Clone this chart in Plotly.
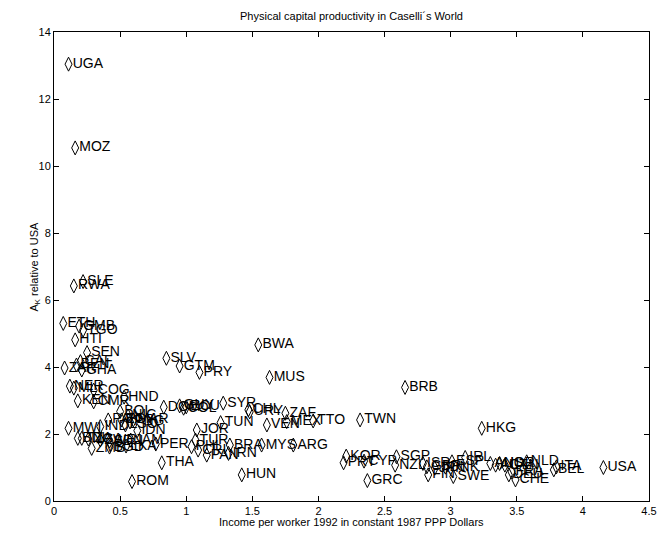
import plotly.graph_objects as go

countries = ["UGA","MOZ","SLE","RWA","ETH","GMB","TGO","HTI","SEN","CAF","BEN","ZAR","GHA",
             "NER","MLI","COG","KEN","CMR","HND","BOL","NIC","EGY","PAK","MAR","PNG","LSO",
             "IND","IDN","MWI","BDI","TZA","NGA","ZWE","SDN","JAM","ZMB","BGD","LKA","PER",
             "THA","ROM","SLV","GTM","PRY","DOM","GUY","COL","ECU","SYR","TUN","JOR","TUR",
             "PHL","CRI","PAN","IRN","BRA","MYS","ARG","HUN","BWA","MUS","CHL","URY","ZAF",
             "MEX","VEN","TTO","TWN","BRB","KOR","PRT","CYP","GRC","SGP","NZL","ISR","ESP",
             "GBR","JPN","FIN","DNK","SWE","IRL","HKG","AUS","AUT","NOR","CAN","DEU","FRA",
             "NLD","CHE","ITA","BEL","USA"]
income = [0.11,0.16,0.22,0.15,0.07,0.19,0.22,0.16,0.25,0.20,0.17,0.08,0.21,
          0.12,0.15,0.30,0.18,0.30,0.53,0.50,0.56,0.51,0.41,0.60,0.575,0.54,
          0.35,0.63,0.11,0.18,0.21,0.26,0.35,0.42,0.58,0.285,0.42,0.545,0.77,
          0.815,0.59,0.85,0.95,1.10,0.83,0.95,0.98,1.00,1.28,1.26,1.08,1.07,
          1.04,1.09,1.155,1.32,1.33,1.57,1.81,1.42,1.545,1.63,1.47,1.48,1.75,
          1.76,1.61,1.96,2.315,2.655,2.21,2.19,2.345,2.37,2.59,2.58,2.79,3.01,
          2.82,2.88,2.83,2.96,3.02,3.11,3.235,3.30,3.34,3.37,3.41,3.44,3.46,
          3.575,3.49,3.80,3.78,4.155]
ak = [13.04,10.54,6.55,6.42,5.30,5.22,5.10,4.81,4.43,4.16,4.06,3.97,3.91,
      3.43,3.37,3.31,2.99,2.96,3.10,2.67,2.54,2.42,2.42,2.42,2.36,2.27,
      2.22,2.10,2.17,1.87,1.87,1.85,1.82,1.79,1.82,1.57,1.61,1.64,1.70,
      1.14,0.58,4.26,4.03,3.84,2.80,2.84,2.77,2.81,2.92,2.34,2.12,1.82,
      1.62,1.52,1.37,1.42,1.67,1.67,1.67,0.78,4.66,3.69,2.72,2.66,2.62,
      2.37,2.27,2.39,2.42,3.39,1.34,1.14,1.19,0.61,1.32,1.07,1.12,1.17,
      1.02,0.98,0.78,1.01,0.73,1.30,2.17,1.12,1.07,1.12,1.07,0.78,0.87,
      1.17,0.63,1.02,0.93,1.00]

FONT = "Liberation Sans, Arial, sans-serif"

fig = go.Figure()
fig.add_trace(go.Scatter(
    x=income, y=ak, mode="markers",
    marker=dict(symbol="diamond-tall-open", size=10, color="black",
                line=dict(color="black", width=1)),
    cliponaxis=False, showlegend=False, hoverinfo="skip"))
fig.add_trace(go.Scatter(
    x=income, y=ak, text=countries, mode="markers+text",
    textposition="middle right",
    marker=dict(size=5, color="rgba(0,0,0,0)", line=dict(width=0)),
    textfont=dict(family=FONT, size=14, color="black"),
    cliponaxis=False, showlegend=False))

axis_common = dict(showgrid=False, zeroline=False, showline=True, linecolor="black",
                   linewidth=1, mirror="allticks", ticks="inside", ticklen=5,
                   tickcolor="black", tickfont=dict(family=FONT, size=11, color="black"))

fig.update_xaxes(range=[0, 4.5], dtick=0.5, tick0=0, **axis_common)
fig.update_yaxes(range=[0, 14], dtick=2, tick0=0, **axis_common)

fig.update_layout(
    width=661, height=539,
    margin=dict(l=54, r=12, t=32, b=38, autoexpand=False),
    paper_bgcolor="white", plot_bgcolor="white",
    title=dict(text="Physical capital productivity in Caselli\u00b4s World",
               font=dict(family=FONT, size=11, color="black"),
               x=0.5, xref="paper", y=1 - 16 / 539, yref="container",
               xanchor="center", yanchor="middle"),
    annotations=[
        dict(text="Income per worker 1992 in constant 1987 PPP Dollars",
             xref="paper", yref="paper", x=0.5, y=-(522 - 501) / 469,
             xanchor="center", yanchor="middle", showarrow=False,
             font=dict(family=FONT, size=11, color="black")),
        dict(text="A<sub>K</sub> relative to USA", textangle=-90,
             xref="paper", yref="paper", x=-(54 - 34) / 595, y=0.5,
             xanchor="center", yanchor="middle", showarrow=False,
             font=dict(family=FONT, size=11, color="black")),
    ],
)

fig.write_html("out.html")
